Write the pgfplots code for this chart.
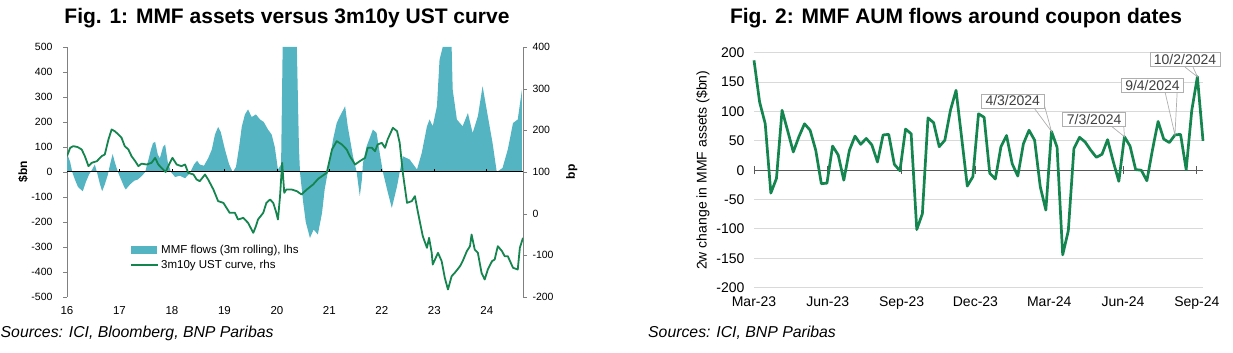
\documentclass[border=0pt]{standalone}
\usepackage{pgfplots}
\pgfplotsset{compat=1.18}
\usepackage{fontspec}
\setmainfont{Liberation Sans}
\usetikzlibrary{calc}
\definecolor{mmfteal}{RGB}{84,180,194}
\definecolor{ustgreen}{RGB}{20,133,78}
\definecolor{gridgray}{RGB}{217,217,217}
\definecolor{txtgray}{RGB}{64,64,64}
\definecolor{axgray}{RGB}{128,128,128}
\definecolor{boxgray}{RGB}{175,175,175}
\begin{document}
\begin{tikzpicture}
\path[use as bounding box] (0pt,0pt) rectangle (1233pt,353pt);
\node[font=\bfseries\fontsize{21}{25}\selectfont] at (287pt,335pt) {Fig. 1: MMF assets versus 3m10y UST curve};
\node[font=\bfseries\fontsize{21}{25}\selectfont] at (956pt,335pt) {Fig. 2: MMF AUM flows around coupon dates};
\node[font=\itshape\fontsize{15.8}{18}\selectfont, anchor=west, inner xsep=0pt] at (0.5pt,20pt) {Sources: ICI, Bloomberg, BNP Paribas};
\node[font=\itshape\fontsize{15.8}{18}\selectfont, anchor=west, inner xsep=0pt] at (648pt,20pt) {Sources: ICI, BNP Paribas};

% ---------- Fig 1, left axis ----------
\begin{axis}[at={(67pt,56pt)}, anchor=south west, scale only axis,
  width=456pt, height=250pt,
  xmin=16, xmax=24.69, ymin=-500, ymax=500,
  axis x line*=bottom, axis y line*=left,
  x axis line style={draw=none}, xtick style={draw=none},
  xtick={16,17,18,19,20,21,22,23,24},
  xticklabels={16,17,18,19,20,21,22,23,24},
  xticklabel style={font=\fontsize{11.5}{13}\selectfont, yshift=-2pt},
  ytick={-500,-400,...,500},
  y axis line style={axgray}, ytick style={axgray},
  tick align=outside, major tick length=4pt,
  yticklabel style={font=\fontsize{10.5}{12}\selectfont, xshift=-7pt},
  /pgf/number format/assume math mode=true,
  ylabel={\bfseries \$bn},
  ylabel style={at={(axis description cs:-0.0965,0.5)}, anchor=center, font=\fontsize{12}{14}\selectfont},
  legend style={at={(axis description cs:0.132,0.225)}, anchor=north west, draw=none, fill=none,
    font=\fontsize{11.5}{13}\selectfont, row sep=1pt},
  legend cell align=left,
]
\addplot[fill=mmfteal, draw=none, forget plot] coordinates {
(16.00,50) (16.02,63) (16.06,40) (16.10,0) (16.15,-30) (16.21,-60) (16.30,-77)
(16.36,-40) (16.42,-10) (16.48,10) (16.53,30) (16.57,0) (16.63,-50) (16.67,-77)
(16.72,-50) (16.78,-10) (16.82,30) (16.87,72) (16.91,40) (16.97,0) (17.03,-30)
(17.09,-60) (17.12,-70) (17.20,-50) (17.28,-35) (17.35,-30) (17.43,-15) (17.49,0)
(17.54,40) (17.60,90) (17.64,116) (17.68,120) (17.73,70) (17.77,55) (17.83,100)
(17.87,110) (17.92,40) (17.98,0) (18.06,-20) (18.15,-15) (18.25,-25) (18.34,-5)
(18.42,30) (18.48,45) (18.53,30) (18.61,25) (18.69,55) (18.76,90) (18.82,150)
(18.88,180) (18.93,160) (19.01,90) (19.09,30) (19.16,0) (19.22,20) (19.28,100)
(19.33,180) (19.39,230) (19.45,250) (19.52,220) (19.60,230) (19.68,210) (19.75,200)
(19.83,170) (19.90,150) (19.96,100) (20.02,10) (20.08,30) (20.11,500) (20.38,500)
(20.42,100) (20.44,0) (20.50,-120) (20.55,-200) (20.63,-264) (20.70,-230) (20.78,-250)
(20.86,-164) (20.91,-70) (20.97,0) (21.07,130) (21.14,196) (21.20,223) (21.30,263)
(21.35,183) (21.45,63) (21.52,0) (21.58,-97) (21.62,-30) (21.64,36) (21.71,103)
(21.83,170) (21.90,156) (21.96,76) (22.02,0) (22.10,-70) (22.19,-144) (22.29,-57)
(22.34,0) (22.40,63) (22.53,50) (22.67,10) (22.76,76) (22.86,183) (22.91,210)
(22.97,183) (23.05,263) (23.10,450) (23.16,500) (23.33,500) (23.35,330) (23.43,210)
(23.54,183) (23.64,236) (23.73,156) (23.83,223) (23.92,343) (24.02,223) (24.11,116)
(24.19,0) (24.30,16) (24.40,90) (24.50,196) (24.59,210) (24.67,330)
} \closedcycle;
\addlegendimage{legend image code/.code={\fill[mmfteal] (0pt,-3.5pt) rectangle (25pt,3.5pt);}}
\addlegendentry{MMF flows (3m rolling), lhs}
\addlegendimage{legend image code/.code={\draw[ustgreen,line width=1.8pt] (0pt,0pt) -- (27pt,0pt);}}
\addlegendentry{3m10y UST curve, rhs}
\draw[black, line width=1pt] (axis cs:16,0) -- (axis cs:24.69,0);
\pgfplotsinvokeforeach{17,18,19,20,21,22,23,24}{\draw[black, line width=0.7pt] (axis cs:#1,0) -- ++(0pt,3pt);}
\end{axis}

% ---------- Fig 1, right axis ----------
\begin{axis}[at={(67pt,56pt)}, anchor=south west, scale only axis,
  width=456pt, height=250pt,
  xmin=16, xmax=24.69, ymin=-200, ymax=400,
  axis x line=none, axis y line*=right,
  ytick={-200,-100,...,400},
  y axis line style={axgray}, ytick style={axgray},
  tick align=outside, major tick length=4pt,
  yticklabel style={font=\fontsize{10.5}{12}\selectfont, xshift=2pt},
  /pgf/number format/assume math mode=true,
  ylabel={\bfseries bp},
  ylabel style={at={(axis description cs:1.107,0.5)}, anchor=center, font=\fontsize{12}{14}\selectfont},
]
\addplot[ustgreen, line width=1.8pt, line join=round] coordinates {
(16.00,138) (16.06,158) (16.12,162) (16.20,160) (16.28,154) (16.34,138) (16.41,114)
(16.47,122) (16.57,126) (16.66,138) (16.72,142) (16.79,178) (16.85,202) (16.91,198)
(16.98,190) (17.04,182) (17.10,162) (17.17,154) (17.23,138) (17.30,126) (17.36,114)
(17.42,120) (17.52,118) (17.61,122) (17.68,134) (17.74,118) (17.80,110) (17.88,100)
(17.96,122) (18.01,134) (18.09,118) (18.18,114) (18.25,118) (18.31,98) (18.41,94)
(18.47,82) (18.53,78) (18.63,94) (18.69,82) (18.79,58) (18.88,30) (18.98,26)
(19.10,2) (19.20,2) (19.26,-14) (19.36,-10) (19.45,-22) (19.55,-46) (19.60,-30)
(19.64,-14) (19.74,2) (19.80,26) (19.87,34) (19.93,26) (19.98,6) (20.02,-14)
(20.06,42) (20.10,122) (20.14,50) (20.18,58) (20.28,58) (20.38,54) (20.47,46)
(20.57,58) (20.69,70) (20.79,84) (20.95,98) (21.05,154) (21.14,174) (21.24,166)
(21.33,154) (21.39,138) (21.49,118) (21.58,126) (21.68,134) (21.73,158) (21.81,158)
(21.87,150) (21.92,166) (22.00,170) (22.06,158) (22.11,178) (22.21,206) (22.29,198)
(22.34,170) (22.40,98) (22.48,26) (22.57,30) (22.63,42) (22.69,2) (22.78,-54)
(22.86,-82) (22.90,-58) (22.95,-94) (22.97,-122) (23.07,-94) (23.14,-114) (23.20,-154)
(23.26,-182) (23.33,-150) (23.39,-142) (23.49,-126) (23.54,-114) (23.62,-90) (23.68,-78)
(23.71,-50) (23.77,-86) (23.83,-94) (23.90,-142) (23.96,-158) (24.02,-134) (24.10,-114)
(24.15,-110) (24.21,-78) (24.29,-90) (24.34,-102) (24.40,-102) (24.50,-130) (24.59,-134)
(24.63,-82) (24.69,-58)
};
\end{axis}

% ---------- Fig 2 ----------
\begin{axis}[at={(754pt,65.3pt)}, anchor=south west, scale only axis,
  width=449pt, height=235pt,
  xmin=0, xmax=80, ymin=-200, ymax=200,
  axis line style={draw=none}, tick style={draw=none}, major tick length=0pt,
  ymajorgrids, grid style={gridgray, line width=0.9pt},
  ytick={-200,-150,...,200},
  xtick={0,13.15,26.3,39.45,52.6,65.75,78.9},
  xticklabels={Mar-23,Jun-23,Sep-23,Dec-23,Mar-24,Jun-24,Sep-24},
  xticklabel style={font=\fontsize{14}{16}\selectfont, yshift=-5pt},
  yticklabel style={font=\fontsize{14}{16}\selectfont, xshift=-6pt},
  /pgf/number format/assume math mode=true,
  ylabel={2w change in MMF assets (\$bn)},
  ylabel style={at={(axis description cs:-0.1136,0.5)}, anchor=center, font=\fontsize{14}{16}\selectfont},
  clip=false,
]
\draw[black!65, line width=1.1pt] (axis cs:0,0) -- (axis cs:80,0);
\pgfplotsinvokeforeach{0,13.15,26.3,39.45,52.6,65.75,78.9}{\draw[black!65, line width=0.9pt] (axis cs:#1,0) ++(0pt,-4pt) -- ++(0pt,8pt);}
\addplot[ustgreen, line width=2.7pt, line join=round] coordinates {
(0,187) (1,116) (2,79) (3,-39) (4,-14) (5,102) (6,67) (7,31) (8,57) (9,79)
(10,68) (11,34) (12,-23) (13,-22) (14,41) (15,26) (16,-17) (17,34) (18,58) (19,44)
(20,54) (21,43) (22,14) (23,60) (24,61) (25,10) (26,-1) (27,70) (28,62) (29,-101)
(30,-74) (31,89) (32,81) (33,40) (34,51) (35,102) (36,136) (37,55) (38,-27) (39,-11)
(40,96) (41,90) (42,-5) (43,-15) (44,40) (45,59) (46,11) (47,-10) (48,45) (49,68)
(50,51) (51,-28) (52,-68) (53,66) (54,39) (55,-144) (56,-103) (57,37) (58,56) (59,48)
(60,34) (61,22) (62,27) (63,52) (64,15) (65,-19) (66,57) (67,41) (68,1) (69,0)
(70,-18) (71,35) (72,83) (73,53) (74,47) (75,60) (76,61) (77,1) (78,102) (79,159)
(80,50)
};
\tikzset{cb/.style={draw=boxgray, fill=white, line width=0.8pt, text=txtgray,
  font=\fontsize{14}{16}\selectfont, inner xsep=4pt, inner ysep=2pt, text height=10pt, text depth=0pt}}
\node[cb] (b1) at (axis cs:46.1,117.8) {4/3/2024};
\node[cb] (b2) at (axis cs:60.6,87) {7/3/2024};
\node[cb] (b3) at (axis cs:71.0,145) {9/4/2024};
\node[cb] (b4) at (axis cs:76.8,188) {10/2/2024};
\draw[boxgray, line width=0.7pt] ($(b1.south east)+(-10pt,0pt)$) -- (axis cs:53,66) -- ($(b1.south east)+(0pt,3pt)$);
\draw[boxgray, line width=0.7pt] ($(b2.south east)+(-14pt,0pt)$) -- (axis cs:66,57) -- ($(b2.south east)+(-2pt,0pt)$);
\draw[boxgray, line width=0.7pt] ($(b3.south east)+(-19pt,0pt)$) -- (axis cs:75,60) -- ($(b3.south east)+(-7pt,0pt)$);
\draw[boxgray, line width=0.7pt] ($(b4.south)+(0pt,0pt)$) -- (axis cs:79,159) -- ($(b4.south)+(8pt,0pt)$);
\end{axis}
\end{tikzpicture}
\end{document}
